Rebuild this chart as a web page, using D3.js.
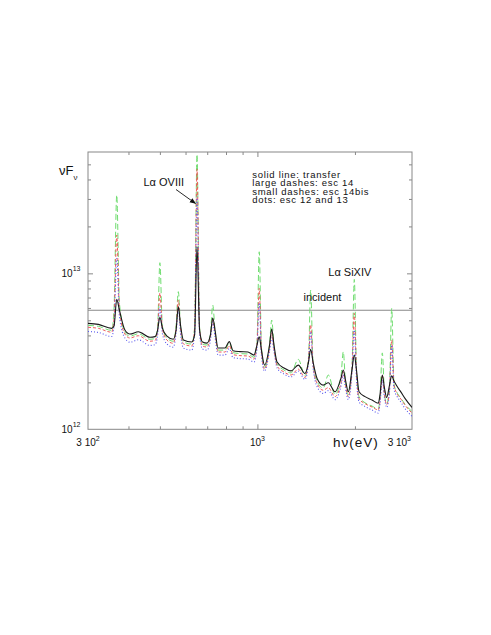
<!DOCTYPE html>
<html>
<head>
<meta charset="utf-8">
<script src="https://cdn.jsdelivr.net/npm/d3@7"></script>
<style>
  body { margin: 0; background: #fff; }
  svg text { font-family: "Liberation Sans", Arial, Helvetica, sans-serif; fill: #111; }
</style>
</head>
<body>
<div id="chart"></div>
<script>
// photon energy grid (eV)
var energy = [300,323,355,361,368,375,390,404,429,466,483,492,500,509,526,550,561,570,579,591,
  627,640,651,663,677,699,716,728,740,756,794,819,841,883,935,976,997,1013,1029,1052,
  1090,1107,1125,1150,1208,1270,1337,1402,1438,1460,1485,1528,1597,1655,1736,1811,1841,1870,1908,1958,
  1991,2022,2059,2148,2258,2361,2389,2429,2467,2506,2557,2597,2640,2691,2774,2854,3000];

// nuFnu in units of 1e12
var transfer = [4.78,4.71,4.44,4.60,6.81,5.82,4.33,4.08,4.22,3.89,3.93,4.33,5.23,4.46,3.96,3.78,4.33,6.12,4.66,3.74,
  3.63,4.03,14.85,4.33,3.63,3.57,4.03,5.17,4.33,3.32,3.32,3.65,3.19,3.15,3.13,2.99,3.47,3.92,3.22,2.58,
  3.47,4.39,3.47,2.70,2.47,2.37,2.58,2.28,2.70,3.26,2.70,2.12,1.92,1.99,1.74,2.13,2.40,2.07,1.74,2.40,
  2.99,2.40,1.74,1.62,1.54,1.47,1.66,2.23,1.84,1.60,1.92,2.20,2.04,1.90,1.73,1.58,1.38];

var esc14 = [4.64,4.57,4.31,6.0,31.8,6.5,4.2,3.96,4.10,3.78,3.82,4.5,11.7,4.6,3.85,3.67,4.6,7.63,4.6,3.63,
  3.52,4.5,58,4.5,3.52,3.47,4.1,6.26,4.3,3.22,3.22,3.6,3.10,3.06,3.04,2.90,3.6,13.75,3.4,2.50,
  3.5,5.02,3.4,2.62,2.40,2.30,2.81,2.21,2.9,7.82,2.7,2.03,1.84,2.23,1.67,2.2,3.14,2.0,1.67,2.5,
  9.15,2.4,1.62,1.48,1.41,1.35,1.6,3.09,1.7,1.46,1.9,5.97,1.95,1.74,1.58,1.45,1.30];

var esc14bis = [4.51,4.44,4.19,5.2,17.6,5.9,4.08,3.85,3.98,3.67,3.71,4.3,7.48,4.4,3.73,3.56,4.4,6.74,4.4,3.53,
  3.42,4.4,46.4,4.4,3.42,3.37,3.9,5.02,4.1,3.13,3.13,3.44,3.01,2.97,2.95,2.82,3.5,8.01,3.2,2.43,
  3.3,4.14,3.27,2.55,2.33,2.23,2.43,2.15,2.8,4.67,2.6,1.97,1.78,1.85,1.62,1.98,2.34,1.92,1.62,2.4,
  5.54,2.3,1.57,1.46,1.39,1.33,1.5,2.23,1.66,1.44,1.8,3.74,1.9,1.71,1.56,1.43,1.27];

var esc1213 = [4.24,4.18,3.94,4.6,12.5,5.3,3.85,3.62,3.75,3.45,3.49,4.0,6.08,4.1,3.52,3.36,4.1,5.97,4.1,3.32,
  3.22,4.1,31.0,4.1,3.27,3.22,3.7,4.88,3.9,2.99,2.99,3.29,2.88,2.84,2.82,2.70,3.3,6.45,3.0,2.36,
  3.2,3.85,3.17,2.47,2.26,2.17,2.36,2.09,2.7,4.22,2.5,1.88,1.70,1.77,1.55,1.89,2.23,1.84,1.55,2.3,
  4.33,2.1,1.50,1.40,1.33,1.27,1.45,2.07,1.6,1.38,1.75,3.47,1.8,1.64,1.49,1.36,1.21];

var incident = 5.8;

var xMajor = [1000], xMinor = [400,500,600,700,800,900,2000];
var yMajor = [10], yMinor = [2,3,4,5,6,7,8,9,20,30,40,50];
var xTickLabels = [[300,"3 10","2"],[1000,"10","3"],[3000,"3 10","3"]];
var yTickLabels = [[1,"10","12"],[10,"10","13"]];
var legendLines = ["solid line: transfer","large dashes: esc 14","small dashes: esc 14bis","dots: esc 12 and 13"];

var W = 491, H = 635;
var plotL = 88, plotR = 412, plotT = 152, plotB = 429.3;

var svg = d3.select("#chart").append("svg")
    .attr("width", W).attr("height", H);

var x = d3.scaleLog().domain([300, 3000]).range([plotL, plotR]);
var y = d3.scaleLog().domain([1, 60]).range([plotB, plotT]);

svg.append("clipPath").attr("id","plotclip")
  .append("rect").attr("x", plotL).attr("y", plotT).attr("width", plotR-plotL).attr("height", plotB-plotT);

// tick marks on all four sides, pointing inward
function ticks(axisFn, vals, len, tr){
  var g = svg.append("g").attr("transform", tr)
    .call(axisFn.tickValues(vals).tickSize(len).tickFormat(""));
  g.select(".domain").remove();
  g.selectAll("line").attr("stroke", "#888");
}
ticks(d3.axisBottom(x), xMajor, -5, "translate(0," + plotB + ")");
ticks(d3.axisBottom(x), xMinor, -3, "translate(0," + plotB + ")");
ticks(d3.axisTop(x), xMajor, -5, "translate(0," + plotT + ")");
ticks(d3.axisTop(x), xMinor, -3, "translate(0," + plotT + ")");
ticks(d3.axisLeft(y), yMajor, -5, "translate(" + plotL + ",0)");
ticks(d3.axisLeft(y), yMinor, -3, "translate(" + plotL + ",0)");
ticks(d3.axisRight(y), yMajor, -5, "translate(" + plotR + ",0)");
ticks(d3.axisRight(y), yMinor, -3, "translate(" + plotR + ",0)");

svg.append("rect")
  .attr("x", plotL).attr("y", plotT).attr("width", plotR-plotL).attr("height", plotB-plotT)
  .attr("fill", "none").attr("stroke", "#888").attr("stroke-width", 1);

// incident continuum
svg.append("line")
  .attr("x1", plotL).attr("x2", plotR)
  .attr("y1", y(incident)).attr("y2", y(incident))
  .attr("stroke", "#888").attr("stroke-width", 1.2);

var line = d3.line()
  .x(function(d, i){ return x(energy[i]); })
  .y(function(d){ return y(d); })
  .curve(d3.curveMonotoneX);

var plot = svg.append("g").attr("clip-path", "url(#plotclip)");

var series = [
  {v: esc14, color: "#6fdc6f", dash: "6,3", w: 1},
  {v: esc14bis, color: "#ee5b5b", dash: "3,2", w: 1},
  {v: esc1213, color: "#5a5aee", dash: "1,2", w: 1.1},
  {v: transfer, color: "#1a1a1a", dash: null, w: 1.1}
];
series.forEach(function(s){
  plot.append("path")
    .attr("d", line(s.v))
    .attr("fill", "none")
    .attr("stroke", s.color)
    .attr("stroke-width", s.w)
    .attr("stroke-dasharray", s.dash);
});

// tick labels with exponents
xTickLabels.forEach(function(t, i){
  var tx = svg.append("text")
    .attr("x", x(t[0]) + (i == 2 ? -1 : 0)).attr("y", 446)
    .attr("text-anchor", i == 2 ? "end" : "middle")
    .style("font-size", "10px");
  tx.append("tspan").text(t[1]);
  tx.append("tspan").attr("dy", -5).style("font-size", "7px").text(t[2]);
});
yTickLabels.forEach(function(t){
  var tx = svg.append("text")
    .attr("x", 61.5).attr("y", y(t[0]) + 3.5)
    .style("font-size", "10px");
  tx.append("tspan").text(t[1]);
  tx.append("tspan").attr("dy", -6).style("font-size", "7px").text(t[2]);
});

// axis titles
var yt = svg.append("text").attr("x", 59).attr("y", 175).style("font-size", "13px");
yt.append("tspan").text("νF");
yt.append("tspan").attr("dy", 5).style("font-size", "8px").text("ν");

svg.append("text").attr("x", 333).attr("y", 446.5)
  .style("font-size", "13.5px").style("letter-spacing", "1px")
  .text("hν(eV)");

// legend
legendLines.forEach(function(t, i){
  svg.append("text").attr("x", 252.3).attr("y", 177.5 + i * 8.6)
    .style("font-size", "9.5px").style("letter-spacing", "0.7px").text(t);
});

// annotations
svg.append("text").attr("x", 143.5).attr("y", 185.5).style("font-size", "11px").text("Lα OVIII");
svg.append("text").attr("x", 328.3).attr("y", 276).style("font-size", "11px").text("Lα SiXIV");
svg.append("text").attr("x", 303.5).attr("y", 300.5).style("font-size", "11px").text("incident");

svg.append("defs").append("marker")
  .attr("id", "arrow").attr("viewBox", "0 0 10 10")
  .attr("refX", 9).attr("refY", 5)
  .attr("markerWidth", 7).attr("markerHeight", 7)
  .attr("orient", "auto")
  .append("path").attr("d", "M0,1 L10,5 L0,9 Z").attr("fill", "#111");

svg.append("line")
  .attr("x1", 176).attr("y1", 189.5).attr("x2", 195.5).attr("y2", 203.5)
  .attr("stroke", "#111").attr("stroke-width", 0.9)
  .attr("marker-end", "url(#arrow)");
</script>
</body>
</html>
